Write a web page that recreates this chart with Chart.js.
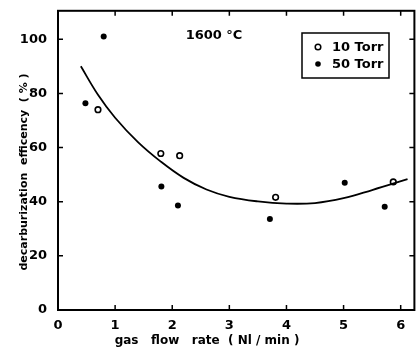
<!DOCTYPE html>
<html>
<head>
<meta charset="utf-8">
<script src="https://cdn.jsdelivr.net/npm/chart.js@4.4.1/dist/chart.umd.min.js"></script>
<style>
  html, body { margin: 0; padding: 0; background: #fff; }
  #wrap { width: 420px; height: 350px; }
</style>
</head>
<body>
<div id="wrap"><canvas id="grafico"></canvas></div>
<script>
// data (1600 C)
const torr10X = [0.70, 1.80, 2.13, 3.81, 5.87];
const torr10Y = [74.0, 57.8, 57.0, 41.6, 47.3];
const torr50X = [0.48, 0.80, 1.81, 2.10, 3.71, 5.02, 5.72];
const torr50Y = [76.4, 101.0, 45.6, 38.6, 33.6, 47.0, 38.1];
const curveX = [0.40, 0.70, 1.00, 1.40, 1.80, 2.20, 2.60, 3.00, 3.50, 4.00, 4.50, 5.00, 5.50, 6.12];
const curveY = [90.0, 79.5, 71.0, 62.0, 54.8, 48.8, 44.5, 41.8, 40.1, 39.3, 39.5, 41.3, 44.3, 48.3];
const xTicks = [0, 1, 2, 3, 4, 5, 6];
const yTicks = [0, 20, 40, 60, 80, 100];
const seriesNames = ['10 Torr', '50 Torr'];

const pts = (xs, ys) => xs.map((x, i) => ({ x: x, y: ys[i] }));
const TITLE_FONT = 'bold 11px "DejaVu Sans", sans-serif';
const FONT = 'bold 13px "DejaVu Sans", sans-serif';

const framePlugin = {
  id: 'frame',
  afterDraw(chart) {
    const { ctx, chartArea: a, scales } = chart;
    ctx.save();
    ctx.strokeStyle = '#000';
    ctx.lineWidth = 2;
    ctx.strokeRect(a.left, a.top, a.right - a.left, a.bottom - a.top);
    // inward ticks on all four sides
    ctx.lineWidth = 1.5;
    ctx.beginPath();
    xTicks.forEach(v => {
      const px = scales.x.getPixelForValue(v);
      ctx.moveTo(px, a.bottom); ctx.lineTo(px, a.bottom - 5);
      ctx.moveTo(px, a.top); ctx.lineTo(px, a.top + 5);
    });
    yTicks.forEach(v => {
      const py = scales.y.getPixelForValue(v);
      ctx.moveTo(a.left, py); ctx.lineTo(a.left + 5, py);
      ctx.moveTo(a.right, py); ctx.lineTo(a.right - 5, py);
    });
    ctx.stroke();

    // axis titles
    ctx.fillStyle = '#000';
    ctx.textAlign = 'center';
    ctx.textBaseline = 'middle';
    ctx.font = 'bold 12px "DejaVu Sans", sans-serif';
    ctx.fillText('gas   flow   rate  ( Nl / min )', 207, 341);
    ctx.font = TITLE_FONT;
    ctx.save();
    ctx.translate(24, 172);
    ctx.rotate(-Math.PI / 2);
    ctx.fillText('decarburization  efficency  ( % )', 0, 0);
    ctx.restore();

    // temperature note
    ctx.font = FONT;
    ctx.fillText('1600 °C', 214, 36);

    // legend box
    ctx.lineWidth = 1.5;
    ctx.strokeRect(302, 33, 87, 45);
    ctx.textAlign = 'left';
    [0, 1].forEach(i => {
      const y = 47 + i * 17;
      ctx.beginPath();
      ctx.arc(318, y, 2.8, 0, Math.PI * 2);
      if (i === 0) { ctx.fillStyle = '#fff'; ctx.fill(); ctx.stroke(); }
      else { ctx.fillStyle = '#000'; ctx.fill(); }
      ctx.fillStyle = '#000';
      ctx.fillText(seriesNames[i], 332, y + 1);
    });
    ctx.restore();
  }
};

new Chart(document.getElementById('grafico'), {
  type: 'scatter',
  data: {
    datasets: [
      {
        label: 'fit',
        type: 'line',
        data: pts(curveX, curveY),
        borderColor: '#000',
        borderWidth: 1.8,
        pointRadius: 0,
        tension: 0.4,
        fill: false
      },
      {
        label: seriesNames[0],
        data: pts(torr10X, torr10Y),
        pointRadius: 2.8,
        pointBorderWidth: 1.6,
        pointBorderColor: '#000',
        pointBackgroundColor: '#fff'
      },
      {
        label: seriesNames[1],
        data: pts(torr50X, torr50Y),
        pointRadius: 3,
        pointBorderWidth: 0,
        pointBackgroundColor: '#000'
      }
    ]
  },
  options: {
    responsive: true,
    maintainAspectRatio: false,
    animation: false,
    layout: { padding: { top: 7, right: 5, left: 0, bottom: 0 } },
    plugins: {
      legend: { display: false },
      tooltip: { enabled: false }
    },
    scales: {
      x: {
        type: 'linear',
        min: 0,
        max: 6.24,
        afterBuildTicks: s => { s.ticks = xTicks.map(v => ({ value: v })); },
        afterFit: s => { s.height = 40; },
        grid: { display: false },
        border: { display: false },
        ticks: { color: '#000', font: { family: 'DejaVu Sans', size: 13, weight: 'bold' }, padding: 0 }
      },
      y: {
        min: 0,
        max: 110.5,
        afterBuildTicks: s => { s.ticks = yTicks.map(v => ({ value: v })); },
        afterFit: s => { s.width = 58; },
        grid: { display: false },
        border: { display: false },
        ticks: { color: '#000', font: { family: 'DejaVu Sans', size: 13, weight: 'bold' }, padding: 3 }
      }
    }
  },
  plugins: [framePlugin]
});
</script>
</body>
</html>
